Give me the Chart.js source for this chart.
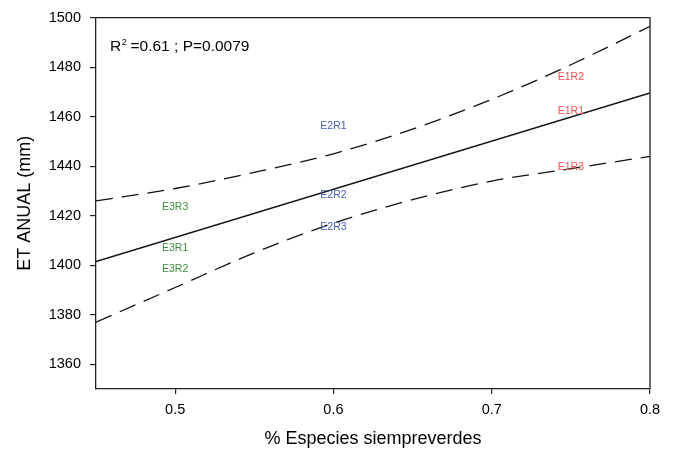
<!DOCTYPE html>
<html><head><meta charset="utf-8">
<script src="https://cdn.jsdelivr.net/npm/chart.js@4.4.0/dist/chart.umd.min.js"></script>
<style>html,body{margin:0;padding:0;background:#fff;overflow:hidden}#wrap{width:677px;height:453px}</style>
</head><body><div id="wrap"><canvas id="c" width="677" height="453"></canvas></div>
<script>
// ---- data ----
const fitX = [0.45, 0.8];
const fitY = [1401.5, 1469.6];
const bandX = [0.45, 0.5, 0.55, 0.6, 0.65, 0.7, 0.75, 0.8];
const upperY = [1426, 1431, 1437.5, 1445, 1455, 1467, 1481, 1496.5];
const lowerY = [1377, 1391, 1405, 1417, 1426.5, 1434, 1439, 1444];
const pointNames = ['E1R1', 'E1R2', 'E1R3', 'E2R1', 'E2R2', 'E2R3', 'E3R1', 'E3R2', 'E3R3'];
const pointX = [0.75, 0.75, 0.75, 0.6, 0.6, 0.6, 0.5, 0.5, 0.5];
const pointY = [1462.2, 1475.8, 1439.5, 1456.2, 1428.2, 1415.5, 1407.1, 1398.6, 1423.5];
const xTicks = [0.5, 0.6, 0.7, 0.8];
const xTickLabels = ['0.5', '0.6', '0.7', '0.8'];
const yTicks = [1360, 1380, 1400, 1420, 1440, 1460, 1480, 1500];
const yTickLabels = ['1360', '1380', '1400', '1420', '1440', '1460', '1480', '1500'];
const statText = ['R', '2', ' =0.61 ; P=0.0079'];
const xTitle = '% Especies siempreverdes';
const yTitle = 'ET ANUAL (mm)';

// ---- styles ----
const FONT = "'Liberation Sans', Arial, Helvetica, sans-serif";
const groupColors = { E1: '#f2514f', E2: '#4a62b8', E3: '#3e8c3e' };

const zip = (xs, ys) => xs.map((x, i) => ({ x: x, y: ys[i] }));

const labelPlugin = {
  id: 'pointLabels',
  afterDatasetsDraw(chart) {
    const ctx = chart.ctx;
    const meta = chart.getDatasetMeta(3);
    ctx.save();
    ctx.font = '10.5px ' + FONT;
    ctx.textAlign = 'center';
    ctx.textBaseline = 'middle';
    meta.data.forEach((el, i) => {
      ctx.fillStyle = groupColors[pointNames[i].slice(0, 2)];
      ctx.fillText(pointNames[i], el.x, el.y);
    });
    ctx.restore();
  }
};

const framePlugin = {
  id: 'frame',
  afterDraw(chart) {
    const { ctx, chartArea: a } = chart;
    ctx.save();
    ctx.strokeStyle = '#222';
    ctx.lineWidth = 1.3;
    ctx.beginPath();
    ctx.moveTo(a.left, a.top);
    ctx.lineTo(a.right, a.top);
    ctx.lineTo(a.right, a.bottom);
    ctx.stroke();
    // stat annotation
    ctx.fillStyle = '#000';
    ctx.textBaseline = 'alphabetic';
    ctx.textAlign = 'left';
    let x = a.left + 14, y = a.top + 33;
    ctx.font = '15.5px ' + FONT;
    ctx.fillText(statText[0], x, y);
    x += ctx.measureText(statText[0]).width;
    ctx.font = '9px ' + FONT;
    ctx.fillText(statText[1], x + 0.5, y - 6);
    x += ctx.measureText(statText[1]).width;
    ctx.font = '15.5px ' + FONT;
    ctx.fillText(statText[2], x, y);
    ctx.restore();
  }
};

new Chart(document.getElementById('c'), {
  type: 'line',
  data: {
    datasets: [
      { data: zip(fitX, fitY), borderColor: '#111', borderWidth: 1.4, pointRadius: 0, tension: 0 },
      { data: zip(bandX, upperY), borderColor: '#111', borderWidth: 1.3, borderDash: [17, 9], pointRadius: 0, cubicInterpolationMode: 'monotone' },
      { data: zip(bandX, lowerY), borderColor: '#111', borderWidth: 1.3, borderDash: [17, 9], pointRadius: 0, cubicInterpolationMode: 'monotone' },
      { data: zip(pointX, pointY), showLine: false, pointRadius: 0, borderWidth: 0 }
    ]
  },
  options: {
    responsive: false,
    animation: false,
    devicePixelRatio: 1,
    layout: { padding: { left: 0, right: 27, top: 16, bottom: 0 } },
    plugins: { legend: { display: false }, tooltip: { enabled: false } },
    scales: {
      x: {
        type: 'linear', min: 0.45, max: 0.8,
        afterBuildTicks: (s) => { s.ticks = xTicks.map(v => ({ value: v })); },
        afterFit: (s) => { s.height = 64; },
        ticks: {
          color: '#000', font: { family: FONT, size: 14.5 }, padding: 7, maxRotation: 0,
          callback: (v) => { const i = xTicks.findIndex(t => Math.abs(t - v) < 1e-9); return i >= 0 ? xTickLabels[i] : ''; }
        },
        grid: { drawOnChartArea: false, drawTicks: true, tickLength: 5, color: '#222', lineWidth: 1.2 },
        border: { display: true, color: '#222', width: 1.3 },
        title: { display: true, text: xTitle, color: '#000', font: { family: FONT, size: 18 }, padding: { bottom: 3, top: 0 } }
      },
      y: {
        type: 'linear', min: 1350, max: 1500,
        afterBuildTicks: (s) => { s.ticks = yTicks.map(v => ({ value: v })); },
        afterFit: (s) => { s.width = 96; },
        ticks: {
          color: '#000', font: { family: FONT, size: 14.5 }, padding: 9,
          callback: (v) => { const i = yTicks.indexOf(v); return i >= 0 ? yTickLabels[i] : ''; }
        },
        grid: { drawOnChartArea: false, drawTicks: true, tickLength: 6, color: '#222', lineWidth: 1.2 },
        border: { display: true, color: '#222', width: 1.3 },
        title: { display: true, text: yTitle, color: '#000', font: { family: FONT, size: 18 }, padding: { top: 14, bottom: 0 } }
      }
    }
  },
  plugins: [labelPlugin, framePlugin]
});
</script></body></html>
